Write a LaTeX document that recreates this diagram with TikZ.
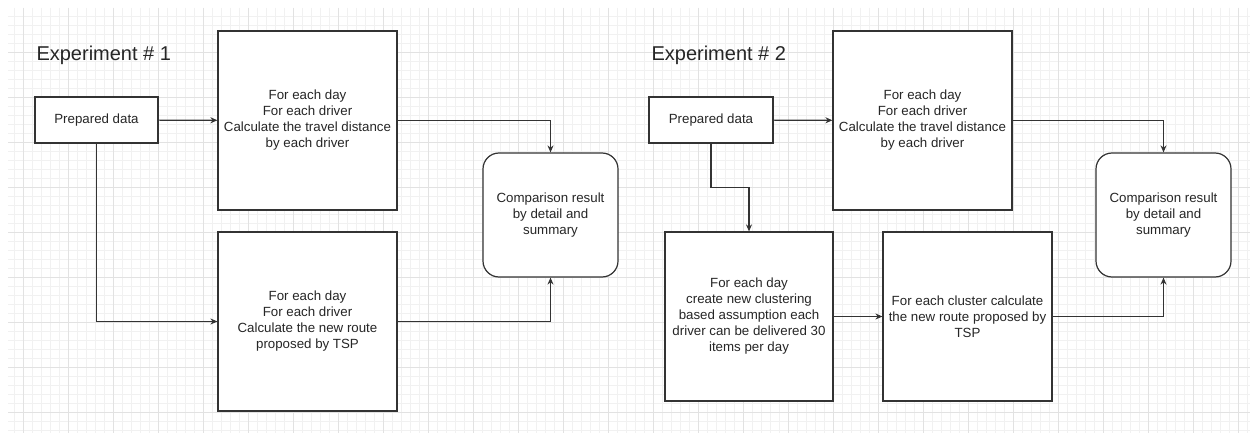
\documentclass[tikz,border=0pt]{standalone}
\usepackage{fontspec}
\setmainfont{Liberation Sans}
\usepackage{tikz}
\usepackage{xcolor}
\usetikzlibrary{arrows.meta}

\definecolor{gridminor}{HTML}{F1F1F1}
\definecolor{gridmajor}{HTML}{E2E2E2}
\definecolor{inkgray}{HTML}{333333}

\tikzset{
  stepbox/.style={draw=inkgray, line width=1.2pt, fill=white, inner sep=0pt,
    align=center, text=black!85, font=\fontsize{13.3}{16}\selectfont},
  resultbox/.style={stepbox, rounded corners=16pt},
  title/.style={anchor=west, text=black!85, font=\fontsize{20}{24}\selectfont},
  flow/.style={draw=inkgray, line width=1.2pt, ->}
}

\begin{document}
\begin{tikzpicture}[x=1pt, y=-1pt, >={Stealth[length=7pt,width=6pt]}]
\useasboundingbox (0,0) rectangle (1250,433);
\fill[white] (0,0) rectangle (1250,433);

% background grid
\foreach \x in {14,23,...,1250} \draw[gridminor, line width=0.6pt] (\x,8) -- (\x,433);
\foreach \y in {16,25,...,433} \draw[gridminor, line width=0.6pt] (8,\y) -- (1250,\y);
\foreach \x in {23,68,...,1250} \draw[gridmajor, line width=0.8pt] (\x,8) -- (\x,433);
\foreach \y in {52,97,...,433} \draw[gridmajor, line width=0.8pt] (8,\y) -- (1250,\y);

% experiment 1
\node[title] (E1) at (33,55) {Experiment \# 1};
\node[stepbox, minimum width=123pt, minimum height=46pt] (P1) at (96.5,120) {Prepared data};
\node[stepbox, minimum width=179pt, minimum height=179pt] (D1) at (307.5,120.5)
  {For each day\\ For each driver\\ Calculate the travel distance\\ by each driver};
\node[stepbox, minimum width=179pt, minimum height=179pt] (T1) at (307.5,321.5)
  {For each day\\ For each driver\\ Calculate the new route\\ proposed by TSP};
\node[resultbox, minimum width=135pt, minimum height=124pt] (R1) at (550.5,215)
  {Comparison result\\ by detail and\\ summary};

\path[flow] (P1) -- (D1);
\path[flow] (P1) |- (T1);
\path[flow] (D1) -| (R1);
\path[flow] (T1) -| (R1);

% experiment 2
\node[title] (E2) at (648,55) {Experiment \# 2};
\node[stepbox, minimum width=124pt, minimum height=46pt] (P2) at (711,120) {Prepared data};
\node[stepbox, minimum width=179pt, minimum height=179pt] (D2) at (922.5,120.5)
  {For each day\\ For each driver\\ Calculate the travel distance\\ by each driver};
\node[stepbox, minimum width=168pt, minimum height=169pt] (C2) at (749,316.5)
  {For each day\\ create new clustering\\ based assumption each\\ driver can be delivered 30\\ items per day};
\node[stepbox, minimum width=169pt, minimum height=169pt] (T2) at (967.5,316.5)
  {For each cluster calculate\\ the new route proposed by\\ TSP};
\node[resultbox, minimum width=135pt, minimum height=124pt] (R2) at (1163.5,215)
  {Comparison result\\ by detail and\\ summary};

\path[flow] (P2) -- (D2);
\path[flow] (P2.south) -- ++(0,44) -| (C2.north);
\path[flow] (C2) -- (T2);
\path[flow] (D2) -| (R2);
\path[flow] (T2) -| (R2);
\end{tikzpicture}
\end{document}
